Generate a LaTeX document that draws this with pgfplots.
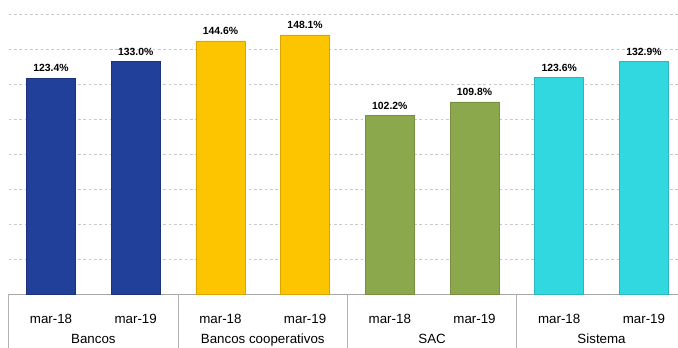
\documentclass[border=0pt]{standalone}
\usepackage{pgfplots}
\pgfplotsset{compat=1.18}
\usepackage{fontspec}
\setmainfont{Liberation Sans}
\definecolor{cBlue}{HTML}{21409A}
\definecolor{cYellow}{HTML}{FDC500}
\definecolor{cGreen}{HTML}{8CA84C}
\definecolor{cCyan}{HTML}{31D8DF}
\definecolor{cGrid}{HTML}{C8C8C8}
\begin{document}
\begin{tikzpicture}
\useasboundingbox (0,0) rectangle (508.5pt,260.25pt);
\begin{axis}[
  at={(6.5pt,39.75pt)}, anchor=south west,
  scale only axis, width=508.2pt, height=210pt,
  xmin=-0.5, xmax=7.5, ymin=0, ymax=160,
  /pgf/number format/assume math mode=true,
  axis x line*=bottom, axis y line*=left,
  y axis line style={draw=none},
  x axis line style={draw=gray!70, line width=0.6pt},
  ytick={20,40,...,160}, yticklabels={}, y tick style={draw=none},
  ymajorgrids, grid style={cGrid, dash pattern=on 2pt off 2pt, line width=0.6pt},
  xtick={0,...,7},
  xticklabels={mar-18,mar-19,mar-18,mar-19,mar-18,mar-19,mar-18,mar-19},
  x tick style={draw=none},
  xticklabel style={font=\fontsize{10}{12}\selectfont, yshift=-7pt},
  extra x ticks={-0.5,1.5,3.5,5.5}, extra x tick labels={},
  extra x tick style={tick align=outside, major tick length=60pt, xmajorgrids=false,
    x tick style={draw=gray!60, line width=0.6pt}},
  ybar, bar width=36.75pt,
  nodes near coords={\pgfmathprintnumber[fixed,fixed zerofill,precision=1,assume math mode=true]{\pgfplotspointmeta}\%},
  nodes near coords style={font=\bfseries\fontsize{7.8}{9}\selectfont, black, yshift=1pt},
  clip=false,
]
\addplot[bar shift=0pt, fill=cBlue, draw=cBlue!80!black] coordinates {(0,123.4) (1,133.0)};
\addplot[bar shift=0pt, fill=cYellow, draw=cYellow!85!black] coordinates {(2,144.6) (3,148.1)};
\addplot[bar shift=0pt, fill=cGreen, draw=cGreen!85!black] coordinates {(4,102.2) (5,109.8)};
\addplot[bar shift=0pt, fill=cCyan, draw=cCyan!85!black] coordinates {(6,123.6) (7,132.9)};
\node[anchor=north, inner sep=0pt, font=\fontsize{10}{12}\selectfont] at (axis cs:0.5,0) [yshift=-30pt] {Bancos};
\node[anchor=north, inner sep=0pt, font=\fontsize{10}{12}\selectfont] at (axis cs:2.5,0) [yshift=-30pt] {Bancos cooperativos};
\node[anchor=north, inner sep=0pt, font=\fontsize{10}{12}\selectfont] at (axis cs:4.5,0) [yshift=-30pt] {SAC};
\node[anchor=north, inner sep=0pt, font=\fontsize{10}{12}\selectfont] at (axis cs:6.5,0) [yshift=-30pt] {Sistema};
\end{axis}
\end{tikzpicture}
\end{document}
